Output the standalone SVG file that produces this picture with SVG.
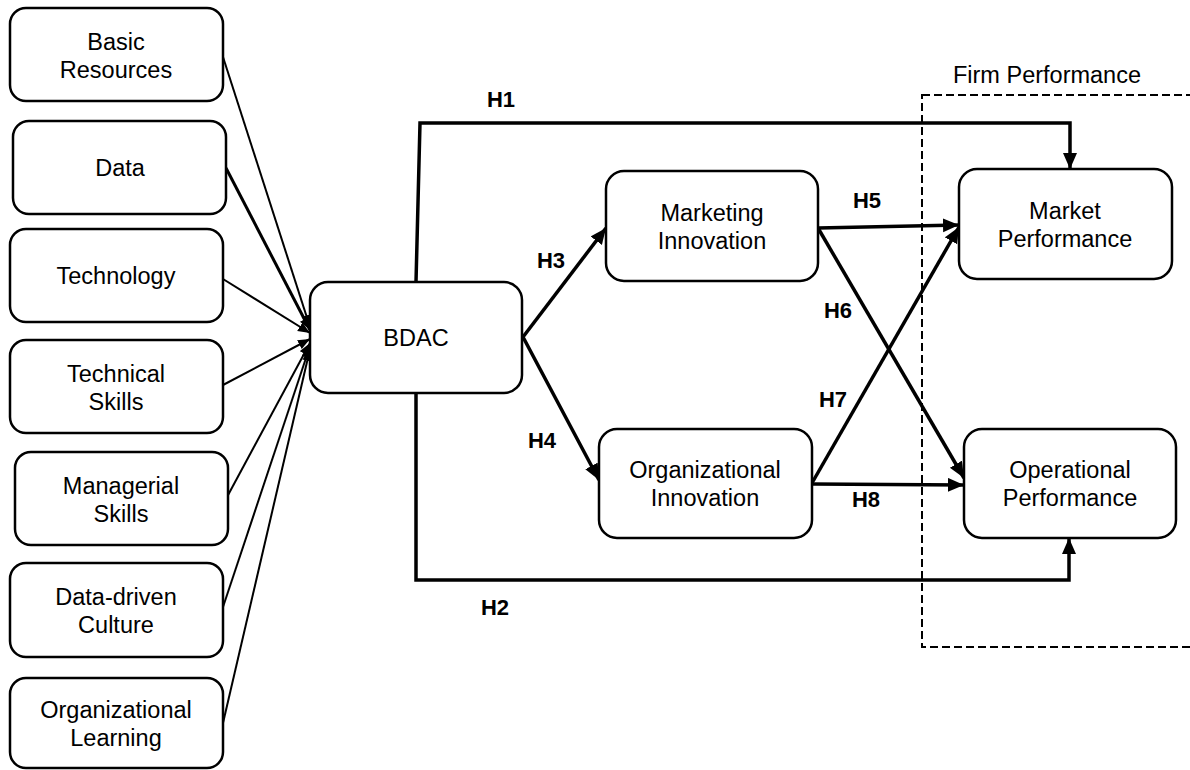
<svg xmlns="http://www.w3.org/2000/svg" width="1190" height="770" viewBox="0 0 1190 770">
<style>
.box{fill:#fff;stroke:#000;stroke-width:2.5}
.t{font-family:"Liberation Sans",Arial,sans-serif;font-size:23.5px;text-anchor:middle;fill:#000}
.h{font-family:"Liberation Sans",Arial,sans-serif;font-size:22px;font-weight:bold;text-anchor:middle;fill:#000}
.thin{fill:none;stroke:#000;stroke-width:2;marker-end:url(#sa)}
.thick{fill:none;stroke:#000;stroke-width:3.5;marker-end:url(#la)}
</style>
<defs>
<marker id="la" markerUnits="userSpaceOnUse" markerWidth="18" markerHeight="16" refX="16" refY="7" orient="auto"><path d="M0,0 L16,7 L0,14 z" fill="#000"/></marker>
<marker id="sa" markerUnits="userSpaceOnUse" markerWidth="14" markerHeight="12" refX="12" refY="5" orient="auto"><path d="M0,0 L12,5 L0,10 z" fill="#000"/></marker>
</defs>
<rect x="0" y="0" width="1190" height="770" fill="#fff"/>
<rect x="922" y="95" width="320" height="552" fill="none" stroke="#000" stroke-width="2" stroke-dasharray="8,4"/>
<text class="t" x="1047" y="83">Firm Performance</text>
<g id="connectors">
<path class="thin" d="M223,57 L310,327"/>
<path class="thin" style="stroke-width:3" d="M226,168 L310,330"/>
<path class="thin" d="M223,279 L310,333"/>
<path class="thin" d="M223,385 L310,339"/>
<path class="thin" d="M227,497 L310,343"/>
<path class="thin" d="M223,607 L310,346"/>
<path class="thin" d="M223,723 L310,349"/>
<path class="thick" d="M416,282 L420,123 L1070,123 L1070,169"/>
<path class="thick" d="M416,393 L416,580 L1069,580 L1069,538"/>
<path class="thick" d="M523,337 L606,228"/>
<path class="thick" d="M523,337 L599,480"/>
<path class="thick" d="M818,228 L959,225"/>
<path class="thick" d="M818,228 L964,478"/>
<path class="thick" d="M812,483 L959,227"/>
<path class="thick" d="M812,484 L964,485"/>
</g>
<g id="basic-resources"><rect class="box" x="10" y="8" width="213" height="93" rx="16"/><text class="t" x="116" y="50">Basic</text><text class="t" x="116" y="78">Resources</text></g>
<g id="data"><rect class="box" x="13" y="121" width="213" height="93" rx="16"/><text class="t" x="120" y="176">Data</text></g>
<g id="technology"><rect class="box" x="10" y="229" width="213" height="93" rx="16"/><text class="t" x="116" y="284">Technology</text></g>
<g id="technical-skills"><rect class="box" x="10" y="340" width="213" height="93" rx="16"/><text class="t" x="116" y="382">Technical</text><text class="t" x="116" y="410">Skills</text></g>
<g id="managerial-skills"><rect class="box" x="15" y="452" width="213" height="93" rx="16"/><text class="t" x="121" y="494">Managerial</text><text class="t" x="121" y="522">Skills</text></g>
<g id="data-driven-culture"><rect class="box" x="10" y="563" width="213" height="94" rx="16"/><text class="t" x="116" y="605">Data-driven</text><text class="t" x="116" y="633">Culture</text></g>
<g id="organizational-learning"><rect class="box" x="10" y="678" width="213" height="90" rx="16"/><text class="t" x="116" y="718">Organizational</text><text class="t" x="116" y="746">Learning</text></g>
<g id="bdac"><rect class="box" x="310" y="282" width="212" height="111" rx="18"/><text class="t" x="416" y="346">BDAC</text></g>
<g id="marketing-innovation"><rect class="box" x="606" y="171" width="212" height="110" rx="18"/><text class="t" x="712" y="221">Marketing</text><text class="t" x="712" y="249">Innovation</text></g>
<g id="organizational-innovation"><rect class="box" x="599" y="429" width="213" height="109" rx="18"/><text class="t" x="705" y="478">Organizational</text><text class="t" x="705" y="506">Innovation</text></g>
<g id="market-performance"><rect class="box" x="959" y="169" width="213" height="110" rx="18"/><text class="t" x="1065" y="219">Market</text><text class="t" x="1065" y="247">Performance</text></g>
<g id="operational-performance"><rect class="box" x="964" y="429" width="212" height="109" rx="18"/><text class="t" x="1070" y="478">Operational</text><text class="t" x="1070" y="506">Performance</text></g>
<g id="labels">
<text class="h" x="501" y="107">H1</text>
<text class="h" x="495" y="615">H2</text>
<text class="h" x="551" y="268">H3</text>
<text class="h" x="542" y="448">H4</text>
<text class="h" x="867" y="208">H5</text>
<text class="h" x="838" y="318">H6</text>
<text class="h" x="833" y="407">H7</text>
<text class="h" x="866" y="507">H8</text>
</g>
</svg>
